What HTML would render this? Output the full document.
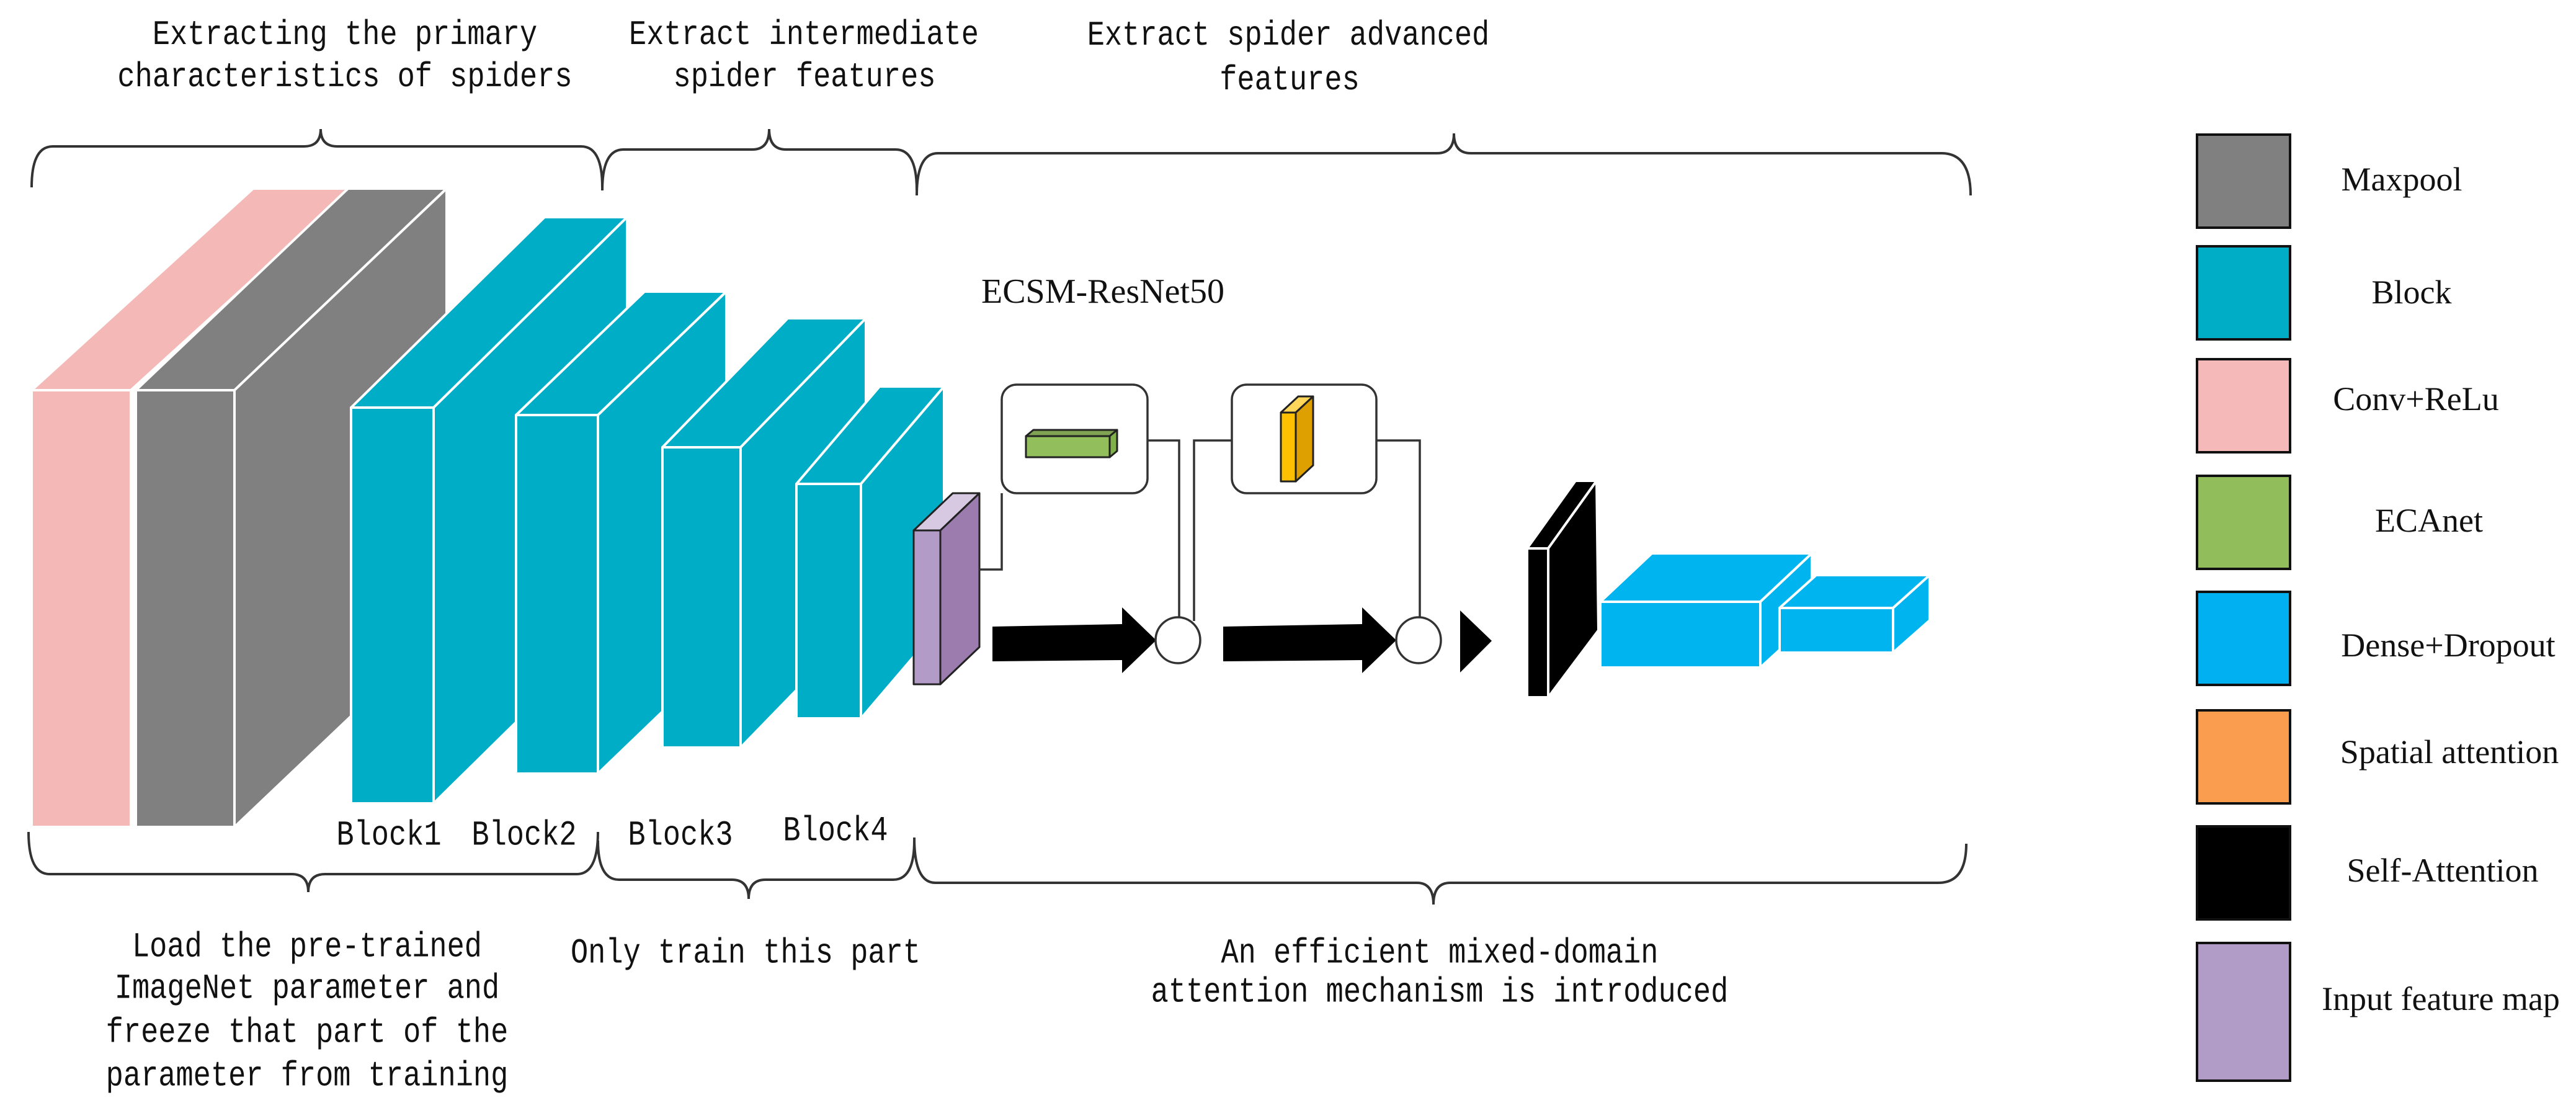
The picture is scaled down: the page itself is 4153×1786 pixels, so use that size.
<!DOCTYPE html>
<html><head><meta charset="utf-8"><style>
html,body{margin:0;padding:0;background:#fff;}
svg{display:block;}
.m{font-family:"Liberation Mono",monospace;font-size:47px;fill:#111;}
.t{font-family:"Liberation Serif",serif;fill:#111;}
</style></head><body>
<svg width="4153" height="1786" viewBox="0 0 4153 1786" xmlns="http://www.w3.org/2000/svg">
<rect width="4153" height="1786" fill="#fff"/>

<g class="m" text-anchor="middle">
<text x="556" y="57" dominant-baseline="central" transform="translate(0,57) scale(1,1.18) translate(0,-57)">Extracting the primary</text>
<text x="556" y="125" dominant-baseline="central" transform="translate(0,125) scale(1,1.18) translate(0,-125)">characteristics of spiders</text>
<text x="1296" y="57" dominant-baseline="central" transform="translate(0,57) scale(1,1.18) translate(0,-57)">Extract intermediate</text>
<text x="1297" y="125" dominant-baseline="central" transform="translate(0,125) scale(1,1.18) translate(0,-125)">spider features</text>
<text x="2077" y="58" dominant-baseline="central" transform="translate(0,58) scale(1,1.18) translate(0,-58)">Extract spider advanced</text>
<text x="2079" y="130" dominant-baseline="central" transform="translate(0,130) scale(1,1.18) translate(0,-130)">features</text>
</g>

<g fill="none" stroke="#333" stroke-width="4">
<path d="M51,302 Q51,236 85,236 L490,236 Q517,236 517,208 Q517,236 544,236 L937,236 Q971,236 971,302"/>
<path d="M971,307 Q971,241 1005,241 L1213,241 Q1240,241 1240,208 Q1240,241 1267,241 L1444,241 Q1478,241 1478,307"/>
<path d="M1478,315 Q1478,247 1512,247 L2317,247 Q2344,247 2344,215 Q2344,247 2371,247 L3130,247 Q3177,247 3177,315"/>
<path d="M46,1341 Q46,1409 80,1409 L470,1409 Q497,1409 497,1438 Q497,1409 524,1409 L930,1409 Q964,1409 964,1341"/>
<path d="M964,1355 Q964,1418 998,1418 L1180,1418 Q1207,1418 1207,1449 Q1207,1418 1234,1418 L1440,1418 Q1474,1418 1474,1355"/>
<path d="M1474,1350 Q1474,1423 1508,1423 L2284,1423 Q2311,1423 2311,1458 Q2311,1423 2338,1423 L3125,1423 Q3170,1423 3170,1360"/>
</g>

<g stroke="#fff" stroke-width="4" stroke-linejoin="round">
<polygon points="51,629 211,629 568,304 408,304" fill="#F4B9B7"/>
<rect x="51" y="629" width="160" height="704" fill="#F4B9B7"/>
<polygon points="219,629 378,629 720,304 561,304" fill="#808080"/>
<polygon points="378,629 720,304 720,1008 378,1333" fill="#808080"/>
<rect x="219" y="629" width="159" height="704" fill="#808080"/>

<polygon points="566,657 699,657 1011,350 878,350" fill="#00ADC6"/>
<polygon points="699,657 1011,350 1011,988 699,1295" fill="#00ADC6"/>
<rect x="566" y="657" width="133" height="638" fill="#00ADC6"/>

<polygon points="832,669 964,669 1171,470 1039,470" fill="#00ADC6"/>
<polygon points="964,669 1171,470 1171,1048 964,1247" fill="#00ADC6"/>
<rect x="832" y="669" width="132" height="578" fill="#00ADC6"/>

<polygon points="1068,721 1194,721 1396,513 1270,513" fill="#00ADC6"/>
<polygon points="1194,721 1396,513 1396,997 1194,1205" fill="#00ADC6"/>
<rect x="1068" y="721" width="126" height="484" fill="#00ADC6"/>

<polygon points="1284,780 1388,780 1522,623 1418,623" fill="#00ADC6"/>
<polygon points="1388,780 1522,623 1522,1001 1388,1158" fill="#00ADC6"/>
<rect x="1284" y="780" width="104" height="378" fill="#00ADC6"/>
</g>

<g stroke="#222" stroke-width="3" stroke-linejoin="round">
<polygon points="1473,855 1516,855 1579,795 1536,795" fill="#D7C9E2"/>
<polygon points="1516,855 1579,795 1579,1043 1516,1103" fill="#9C7CAF"/>
<rect x="1473" y="855" width="43" height="248" fill="#B29CC7"/>
</g>

<text class="t" x="1778" y="488" font-size="56" text-anchor="middle">ECSM-ResNet50</text>

<g fill="none" stroke="#333" stroke-width="3.5">
<rect x="1615" y="620" width="235" height="175" rx="24" fill="#fff"/>
<rect x="1986" y="620" width="233" height="175" rx="24" fill="#fff"/>
<polyline points="1579,918 1615,918 1615,795"/>
<polyline points="1850,710 1901,710 1901,996"/>
<polyline points="1925,1001 1925,710 1986,710"/>
<polyline points="2219,710 2289,710 2289,996"/>
</g>
<g stroke="#222" stroke-width="3" stroke-linejoin="round">
<polygon points="1654,703 1789,703 1801,693 1666,693" fill="#7FA352"/>
<polygon points="1789,703 1801,693 1801,727 1789,737" fill="#7FB04A"/>
<rect x="1654" y="703" width="135" height="34" fill="#92BE5C"/>
<polygon points="2065,665 2089,665 2117,639 2093,639" fill="#FFD65A"/>
<polygon points="2089,665 2117,639 2117,750 2089,776" fill="#DDA000"/>
<rect x="2065" y="665" width="24" height="111" fill="#FFC000"/>
</g>

<polygon points="1600,1010 1809,1006 1809,979 1864,1032 1809,1085 1809,1064 1600,1066" fill="#000"/>
<polygon points="1972,1010 2196,1006 2196,979 2251,1032 2196,1085 2196,1064 1972,1066" fill="#000"/>
<g fill="#fff" stroke="#333" stroke-width="3.5">
<ellipse cx="1899" cy="1032" rx="36" ry="37"/>
<ellipse cx="2287" cy="1032" rx="36" ry="37"/>
</g>
<polygon points="2354,984 2405,1033 2354,1084" fill="#000"/>

<g stroke="#fff" stroke-width="4" stroke-linejoin="round">
<polygon points="2462,884 2496,884 2574,775 2540,775" fill="#000"/>
<polygon points="2496,884 2574,775 2577,1016 2496,1124" fill="#000"/>
<rect x="2462" y="884" width="34" height="240" fill="#000"/>

<polygon points="2580,970 2838,970 2921,892 2663,892" fill="#00B4F0"/>
<polygon points="2838,970 2921,892 2921,1000 2838,1076" fill="#00B4F0"/>
<rect x="2580" y="970" width="258" height="106" fill="#00B4F0"/>

<polygon points="2869,980 3052,980 3111,927 2928,927" fill="#00B4F0"/>
<polygon points="3052,980 3111,927 3111,1000 3052,1052" fill="#00B4F0"/>
<rect x="2869" y="980" width="183" height="72" fill="#00B4F0"/>
</g>

<g class="m" text-anchor="middle">
<text x="627" y="1347" dominant-baseline="central" transform="translate(0,1347) scale(1,1.2) translate(0,-1347)">Block1</text>
<text x="845" y="1347" dominant-baseline="central" transform="translate(0,1347) scale(1,1.2) translate(0,-1347)">Block2</text>
<text x="1097" y="1347" dominant-baseline="central" transform="translate(0,1347) scale(1,1.2) translate(0,-1347)">Block3</text>
<text x="1347" y="1340" dominant-baseline="central" transform="translate(0,1340) scale(1,1.2) translate(0,-1340)">Block4</text>
</g>

<g class="m" text-anchor="middle">
<text x="495" y="1527" dominant-baseline="central" transform="translate(0,1527) scale(1,1.2) translate(0,-1527)">Load the pre-trained</text>
<text x="495" y="1594" dominant-baseline="central" transform="translate(0,1594) scale(1,1.2) translate(0,-1594)">ImageNet parameter and</text>
<text x="495" y="1665" dominant-baseline="central" transform="translate(0,1665) scale(1,1.2) translate(0,-1665)">freeze that part of the</text>
<text x="495" y="1735" dominant-baseline="central" transform="translate(0,1735) scale(1,1.2) translate(0,-1735)">parameter from training</text>
<text x="1202" y="1537" dominant-baseline="central" transform="translate(0,1537) scale(1,1.2) translate(0,-1537)">Only train this part</text>
<text x="2321" y="1537" dominant-baseline="central" transform="translate(0,1537) scale(1,1.2) translate(0,-1537)">An efficient mixed-domain</text>
<text x="2321" y="1600" dominant-baseline="central" transform="translate(0,1600) scale(1,1.2) translate(0,-1600)">attention mechanism is introduced</text>
</g>

<g stroke="#111" stroke-width="4">
<rect x="3542" y="217" width="150" height="150" fill="#808080"/>
<rect x="3542" y="397" width="150" height="150" fill="#00ADC6"/>
<rect x="3542" y="579" width="150" height="150" fill="#F4B9B8"/>
<rect x="3542" y="767" width="150" height="150" fill="#92BD5B"/>
<rect x="3542" y="954" width="150" height="150" fill="#00B0F0"/>
<rect x="3542" y="1145" width="150" height="150" fill="#FB9D4E"/>
<rect x="3542" y="1332" width="150" height="150" fill="#000"/>
<rect x="3542" y="1520" width="150" height="222" fill="#B09CC6"/>
</g>
<g class="t" font-size="54" text-anchor="middle" dominant-baseline="central">
<text x="3872" y="289">Maxpool</text>
<text x="3888" y="471">Block</text>
<text x="3895" y="643">Conv+ReLu</text>
<text x="3916" y="839">ECAnet</text>
<text x="3947" y="1040">Dense+Dropout</text>
<text x="3949" y="1212">Spatial attention</text>
<text x="3938" y="1403">Self-Attention</text>
<text x="3935" y="1610">Input feature map</text>
</g>
</svg>
</body></html>
